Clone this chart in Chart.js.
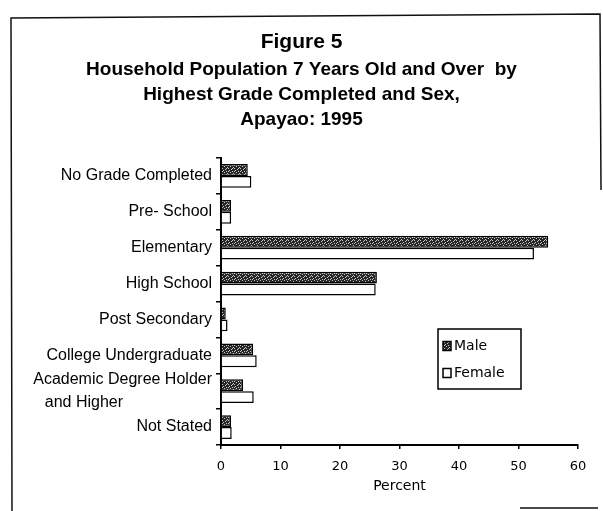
<!DOCTYPE html>
<html><head><meta charset="utf-8">
<script src="https://cdn.jsdelivr.net/npm/chart.js@4.4.1/dist/chart.umd.min.js"></script>
<style>html,body{margin:0;padding:0;background:#fff;}#wrap{position:relative;width:603px;height:511px;}</style>
</head><body><div id="wrap"><canvas id="c" width="603" height="511"></canvas></div>
<script>
const categories = ['No Grade Completed', 'Pre- School', 'Elementary', 'High School', 'Post Secondary',
  'College Undergraduate', ['Academic Degree Holder', 'and Higher'], 'Not Stated'];
const maleValues = [4.5, 1.7, 55.0, 26.2, 0.8, 5.4, 3.7, 1.7];
const femaleValues = [5.1, 1.7, 52.6, 26.0, 1.1, 6.0, 5.5, 1.8];
const xTickValues = [0, 10, 20, 30, 40, 50, 60];
const seriesNames = ['Male', 'Female'];
const titleText = 'Figure 5';
const subtitleLines = ['Household Population 7 Years Old and Over  by', 'Highest Grade Completed and Sex,', 'Apayao: 1995'];
const axisTitle = 'Percent';

// speckled dark fill for the Male bars
function makePattern() {
  const p = document.createElement('canvas');
  p.width = 6; p.height = 6;
  const g = p.getContext('2d');
  g.fillStyle = '#262626';
  g.fillRect(0, 0, 6, 6);
  g.fillStyle = '#c9c9c9';
  [[0,0],[3,1],[1,2],[4,3],[2,4],[5,5],[0,3],[4,0]].forEach(([x, y]) => g.fillRect(x, y, 1, 1));
  return g.createPattern(p, 'repeat');
}
const malePattern = makePattern();

const framePlugin = {
  id: 'frame',
  beforeDraw(chart) {
    const ctx = chart.ctx;
    ctx.save();
    ctx.fillStyle = '#fff';
    ctx.fillRect(0, 0, chart.width, chart.height);
    ctx.strokeStyle = '#111';
    ctx.lineWidth = 1.5;
    ctx.beginPath();
    ctx.moveTo(12, 511); ctx.lineTo(11, 18); ctx.lineTo(600, 14); ctx.lineTo(601, 190);
    ctx.moveTo(520, 508); ctx.lineTo(598, 508);
    ctx.stroke();
    ctx.restore();
  }
};

const legendPlugin = {
  id: 'boxLegend',
  afterDraw(chart) {
    const ctx = chart.ctx;
    const x0 = 438, y0 = 329, w = 83, h = 60;
    ctx.save();
    ctx.fillStyle = '#fff';
    ctx.fillRect(x0, y0, w, h);
    ctx.strokeStyle = '#000';
    ctx.lineWidth = 1.5;
    ctx.strokeRect(x0, y0, w, h);
    ctx.font = '14px "DejaVu Sans"';
    ctx.textBaseline = 'middle';
    chart.data.datasets.forEach((ds, i) => {
      const cy = y0 + 17 + i * 27;
      ctx.fillStyle = ds.backgroundColor;
      ctx.fillRect(x0 + 5, cy - 4.5, 8, 9);
      ctx.lineWidth = 1.5;
      ctx.strokeStyle = '#000';
      ctx.strokeRect(x0 + 5, cy - 4.5, 8, 9);
      ctx.fillStyle = '#000';
      ctx.fillText(ds.label, x0 + 16, cy);
    });
    ctx.restore();
  }
};

new Chart(document.getElementById('c'), {
  type: 'bar',
  data: {
    labels: categories,
    datasets: [
      { label: seriesNames[0], data: maleValues, backgroundColor: malePattern, borderColor: '#000', borderWidth: 1.5 },
      { label: seriesNames[1], data: femaleValues, backgroundColor: '#fff', borderColor: '#000', borderWidth: 1.5 }
    ]
  },
  options: {
    indexAxis: 'y',
    responsive: false,
    animation: false,
    devicePixelRatio: 1,
    datasets: { bar: { categoryPercentage: 0.66, barPercentage: 1.0 } },
    layout: { padding: { left: 25, right: 25, top: 0, bottom: 16 } },
    plugins: {
      legend: { display: false },
      tooltip: { enabled: false },
      title: {
        display: true, text: titleText, color: '#000',
        font: { family: '"Liberation Sans", Arial, sans-serif', size: 21, weight: 'bold', lineHeight: 1.2 },
        padding: { top: 30, bottom: 2.3 }
      },
      subtitle: {
        display: true, text: subtitleLines, color: '#000',
        font: { family: '"Liberation Sans", Arial, sans-serif', size: 19, weight: 'bold', lineHeight: 1.316 },
        padding: { top: 0, bottom: 25.5 }
      }
    },
    scales: {
      x: {
        type: 'linear', min: 0, max: 60,
        afterBuildTicks(scale) { scale.ticks = xTickValues.map(v => ({ value: v })); },
        afterFit(scale) { scale.height = 50; },
        border: { display: true, color: '#000', width: 2 },
        grid: { drawOnChartArea: false, tickLength: 4, color: '#000', lineWidth: 1.5 },
        ticks: { color: '#000', padding: 10, font: { family: '"DejaVu Sans", sans-serif', size: 13 } },
        title: { display: true, text: axisTitle, color: '#000', padding: { top: 0, bottom: 0 },
          font: { family: '"DejaVu Sans", sans-serif', size: 14 } }
      },
      y: {
        afterFit(scale) { scale.width = 196; },
        border: { display: true, color: '#000', width: 2 },
        grid: { drawOnChartArea: false, tickLength: 5, color: '#000', lineWidth: 1.5, offset: true },
        ticks: {
          color: '#000', padding: 4, autoSkip: false,
          font: { family: '"Liberation Sans", Arial, sans-serif', size: 16, lineHeight: 1.4 },
          callback(value) {
            const lab = this.getLabelForValue(value);
            if (Array.isArray(lab)) return [lab[0], lab[1].padEnd(lab[1].length + 20, ' ')];
            return lab;
          }
        }
      }
    }
  },
  plugins: [framePlugin, legendPlugin]
});
</script></body></html>
